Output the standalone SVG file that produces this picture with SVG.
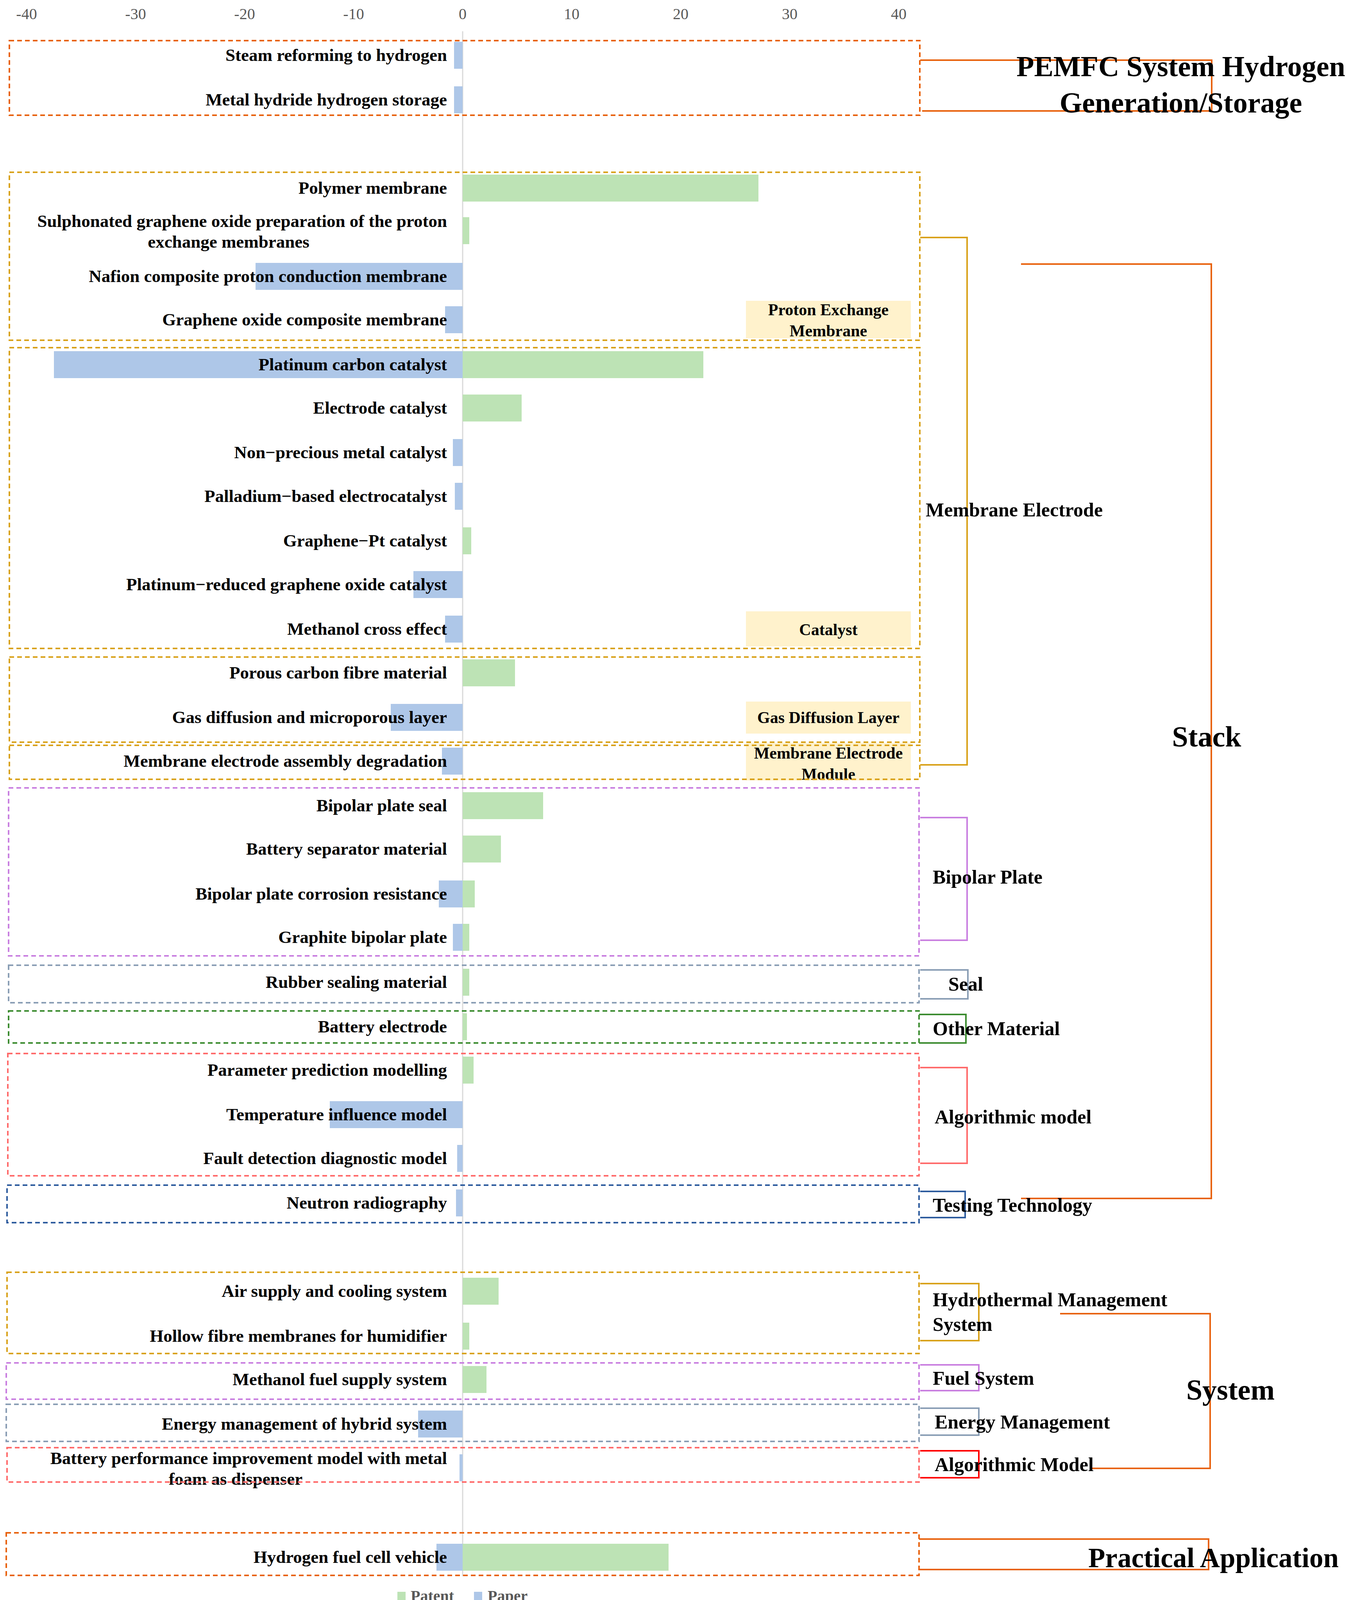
<svg xmlns="http://www.w3.org/2000/svg" width="3501" height="4166" viewBox="0 0 3501 4166">
<style>
text{font-family:"Liberation Serif","Times New Roman",serif;font-weight:bold;fill:#000;dominant-baseline:central}
.lab{font-size:45px;text-anchor:end}
.ax{font-size:40px;fill:#595959;text-anchor:middle;font-weight:normal}
.leg{font-size:40px;fill:#595959}
.yl{font-size:42px;text-anchor:middle}
.grp{font-size:50px}
.big{font-size:74px}
.pat{fill:#BDE3B5}
.pap{fill:#AEC7E8}
.box{fill:none;stroke-width:4;stroke-dasharray:12 8}
.br{fill:none;stroke-width:4}
.ybox{fill:#FFF2CC}
</style>
<rect width="3501" height="4166" fill="#fff"/>
<g id="axis">
<line x1="1184" y1="80" x2="1184" y2="4035" stroke="#D9D9D9" stroke-width="3"/>
<text class="ax" x="68" y="35">-40</text><text class="ax" x="347" y="35">-30</text><text class="ax" x="626" y="35">-20</text><text class="ax" x="905" y="35">-10</text><text class="ax" x="1184" y="35">0</text><text class="ax" x="1463" y="35">10</text><text class="ax" x="1742" y="35">20</text><text class="ax" x="2021" y="35">30</text><text class="ax" x="2300" y="35">40</text>
</g>
<g id="bars">
<rect class="pap" x="1162" y="107" width="22" height="69"/>
<rect class="pap" x="1162" y="221" width="22" height="69"/>
<rect class="pat" x="1184" y="447" width="757" height="69"/>
<rect class="pat" x="1184" y="556" width="17" height="69"/>
<rect class="pap" x="654" y="673" width="530" height="69"/>
<rect class="pap" x="1139" y="784" width="45" height="69"/>
<rect class="pap" x="138" y="899" width="1046" height="69"/>
<rect class="pat" x="1184" y="899" width="616" height="69"/>
<rect class="pat" x="1184" y="1010" width="151" height="69"/>
<rect class="pap" x="1159" y="1124" width="25" height="69"/>
<rect class="pap" x="1164" y="1236" width="20" height="69"/>
<rect class="pat" x="1184" y="1350" width="22" height="69"/>
<rect class="pap" x="1058" y="1462" width="126" height="69"/>
<rect class="pap" x="1139" y="1576" width="45" height="69"/>
<rect class="pat" x="1184" y="1688" width="134" height="69"/>
<rect class="pap" x="1000" y="1802" width="184" height="69"/>
<rect class="pap" x="1131" y="1914" width="53" height="69"/>
<rect class="pat" x="1184" y="2028" width="206" height="69"/>
<rect class="pat" x="1184" y="2139" width="98" height="69"/>
<rect class="pap" x="1123" y="2254" width="61" height="69"/>
<rect class="pat" x="1184" y="2254" width="31" height="69"/>
<rect class="pap" x="1159" y="2365" width="25" height="69"/>
<rect class="pat" x="1184" y="2365" width="17" height="69"/>
<rect class="pat" x="1184" y="2480" width="17" height="69"/>
<rect class="pat" x="1184" y="2594" width="11" height="69"/>
<rect class="pat" x="1184" y="2705" width="28" height="69"/>
<rect class="pap" x="844" y="2819" width="340" height="69"/>
<rect class="pap" x="1170" y="2931" width="14" height="69"/>
<rect class="pap" x="1167" y="3045" width="17" height="69"/>
<rect class="pat" x="1184" y="3271" width="92" height="69"/>
<rect class="pat" x="1184" y="3386" width="17" height="69"/>
<rect class="pat" x="1184" y="3497" width="61" height="69"/>
<rect class="pap" x="1070" y="3611" width="114" height="69"/>
<rect class="pap" x="1176" y="3723" width="8" height="69"/>
<rect class="pap" x="1117" y="3952" width="67" height="69"/>
<rect class="pat" x="1184" y="3952" width="527" height="69"/>
</g>
<g id="labels">
<text class="lab" x="1144" y="141">Steam reforming to hydrogen</text>
<text class="lab" x="1144" y="255">Metal hydride hydrogen storage</text>
<text class="lab" x="1144" y="481">Polymer membrane</text>
<text class="lab" x="1144" y="566">Sulphonated graphene oxide preparation of the proton</text>
<text class="lab" x="585" y="619" style="text-anchor:middle">exchange membranes</text>
<text class="lab" x="1144" y="707">Nafion composite proton conduction membrane</text>
<text class="lab" x="1144" y="818">Graphene oxide composite membrane</text>
<text class="lab" x="1144" y="933">Platinum carbon catalyst</text>
<text class="lab" x="1144" y="1044">Electrode catalyst</text>
<text class="lab" x="1144" y="1158">Non−precious metal catalyst</text>
<text class="lab" x="1144" y="1270">Palladium−based electrocatalyst</text>
<text class="lab" x="1144" y="1384">Graphene−Pt catalyst</text>
<text class="lab" x="1144" y="1496">Platinum−reduced graphene oxide catalyst</text>
<text class="lab" x="1144" y="1610">Methanol cross effect</text>
<text class="lab" x="1144" y="1722">Porous carbon fibre material</text>
<text class="lab" x="1144" y="1836">Gas diffusion and microporous layer</text>
<text class="lab" x="1144" y="1948">Membrane electrode assembly degradation</text>
<text class="lab" x="1144" y="2062">Bipolar plate seal</text>
<text class="lab" x="1144" y="2173">Battery separator material</text>
<text class="lab" x="1144" y="2288">Bipolar plate corrosion resistance</text>
<text class="lab" x="1144" y="2399">Graphite bipolar plate</text>
<text class="lab" x="1144" y="2514">Rubber sealing material</text>
<text class="lab" x="1144" y="2628">Battery electrode</text>
<text class="lab" x="1144" y="2739">Parameter prediction modelling</text>
<text class="lab" x="1144" y="2853">Temperature influence model</text>
<text class="lab" x="1144" y="2965">Fault detection diagnostic model</text>
<text class="lab" x="1144" y="3079">Neutron radiography</text>
<text class="lab" x="1144" y="3305">Air supply and cooling system</text>
<text class="lab" x="1144" y="3420">Hollow fibre membranes for humidifier</text>
<text class="lab" x="1144" y="3531">Methanol fuel supply system</text>
<text class="lab" x="1144" y="3645">Energy management of hybrid system</text>
<text class="lab" x="1144" y="3733">Battery performance improvement model with metal</text>
<text class="lab" x="603" y="3786" style="text-anchor:middle">foam as dispenser</text>
<text class="lab" x="1144" y="3986">Hydrogen fuel cell vehicle</text>
</g>
<g id="tags">
<rect class="ybox" x="1909" y="770" width="422" height="96"/>
<text class="yl" x="2120" y="793">Proton Exchange</text><text class="yl" x="2120" y="847">Membrane</text>
<rect class="ybox" x="1909" y="1565" width="422" height="90"/>
<text class="yl" x="2120" y="1612">Catalyst</text>
<rect class="ybox" x="1909" y="1796" width="422" height="82"/>
<text class="yl" x="2120" y="1837">Gas Diffusion Layer</text>
<rect class="ybox" x="1909" y="1902" width="422" height="96"/>
<text class="yl" x="2120" y="1928">Membrane Electrode</text><text class="yl" x="2120" y="1982">Module</text>
</g>
<g id="groups">
<rect class="box" x="24" y="104" width="2330" height="191" stroke="#E8620E"/>
<rect class="box" x="24" y="441" width="2330" height="430" stroke="#D9A21B"/>
<rect class="box" x="24" y="890" width="2330" height="770" stroke="#D9A21B"/>
<rect class="box" x="24" y="1682" width="2330" height="218" stroke="#D9A21B"/>
<rect class="box" x="24" y="1908" width="2330" height="87" stroke="#D9A21B"/>
<rect class="box" x="22" y="2017" width="2330" height="430" stroke="#C97FE0"/>
<rect class="box" x="22" y="2471" width="2330" height="96" stroke="#8A9EB5"/>
<rect class="box" x="22" y="2588" width="2330" height="82" stroke="#3C8C30"/>
<rect class="box" x="20" y="2697" width="2332" height="313" stroke="#FF6B6B"/>
<rect class="box" x="18" y="3034" width="2334" height="96" stroke="#2E5C9E"/>
<rect class="box" x="18" y="3257" width="2334" height="208" stroke="#D9A21B"/>
<rect class="box" x="16" y="3489" width="2336" height="93" stroke="#C97FE0"/>
<rect class="box" x="16" y="3595" width="2336" height="95" stroke="#8A9EB5"/>
<rect class="box" x="18" y="3706" width="2334" height="88" stroke="#FF6B6B"/>
<rect class="box" x="16" y="3924" width="2336" height="109" stroke="#E8620E"/>
</g>
<g id="connectors">
<polyline class="br" points="2355,154 3101,154 3101,284 2360,284" stroke="#E8620E"/>
<polyline class="br" points="2355,608 2475,608 2475,1958 2355,1958" stroke="#D9A21B"/>
<polyline class="br" points="2613,676 3100,676 3100,3068 2613,3068" stroke="#E8620E"/>
<polyline class="br" points="2355,2093 2475,2093 2475,2407 2355,2407" stroke="#C97FE0"/>
<polyline class="br" points="2355,2483 2477,2483 2477,2557 2355,2557" stroke="#8A9EB5"/>
<polyline class="br" points="2352,2597 2472,2597 2472,2670 2352,2670" stroke="#3C8C30"/>
<polyline class="br" points="2355,2733 2475,2733 2475,2978 2355,2978" stroke="#FF6B6B"/>
<polyline class="br" points="2355,3050 2470,3050 2470,3117 2355,3117" stroke="#2E5C9E"/>
<polyline class="br" points="2355,3286 2505,3286 2505,3432 2355,3432" stroke="#D9A21B"/>
<polyline class="br" points="2355,3494 2505,3494 2505,3560 2355,3560" stroke="#C97FE0"/>
<polyline class="br" points="2355,3605 2505,3605 2505,3674 2355,3674" stroke="#8A9EB5"/>
<polyline class="br" points="2355,3714 2505,3714 2505,3783 2355,3783" stroke="#FF0000"/>
<polyline class="br" points="2713,3363 3097,3363 3097,3759 2791,3759" stroke="#E8620E"/>
<polyline class="br" points="2352,3940 3093,3940 3093,4018 2352,4018" stroke="#E8620E"/>
</g>
<g id="groupLabels">
<text class="big" x="3022" y="170" text-anchor="middle">PEMFC System Hydrogen</text>
<text class="big" x="3022" y="263" text-anchor="middle">Generation/Storage</text>
<text class="grp" x="2369" y="1305">Membrane Electrode</text>
<text class="big" x="3088" y="1886" text-anchor="middle">Stack</text>
<text class="grp" x="2387" y="2245">Bipolar Plate</text>
<text class="grp" x="2427" y="2519">Seal</text>
<text class="grp" x="2387" y="2633">Other Material</text>
<text class="grp" x="2392" y="2859">Algorithmic model</text>
<text class="grp" x="2387" y="3085">Testing Technology</text>
<text class="grp" x="2387" y="3327">Hydrothermal Management</text>
<text class="grp" x="2387" y="3390">System</text>
<text class="grp" x="2387" y="3528">Fuel System</text>
<text class="grp" x="2392" y="3640">Energy Management</text>
<text class="grp" x="2392" y="3749">Algorithmic Model</text>
<text class="big" x="3149" y="3558" text-anchor="middle">System</text>
<text class="big" x="2785" y="3988" style="font-size:71px">Practical Application</text>
</g>
<g id="legend">
<rect class="pat" x="1017" y="4075" width="21" height="21"/>
<text class="leg" x="1051" y="4085">Patent</text>
<rect class="pap" x="1213" y="4075" width="21" height="21"/>
<text class="leg" x="1248" y="4085">Paper</text>
</g>
</svg>
